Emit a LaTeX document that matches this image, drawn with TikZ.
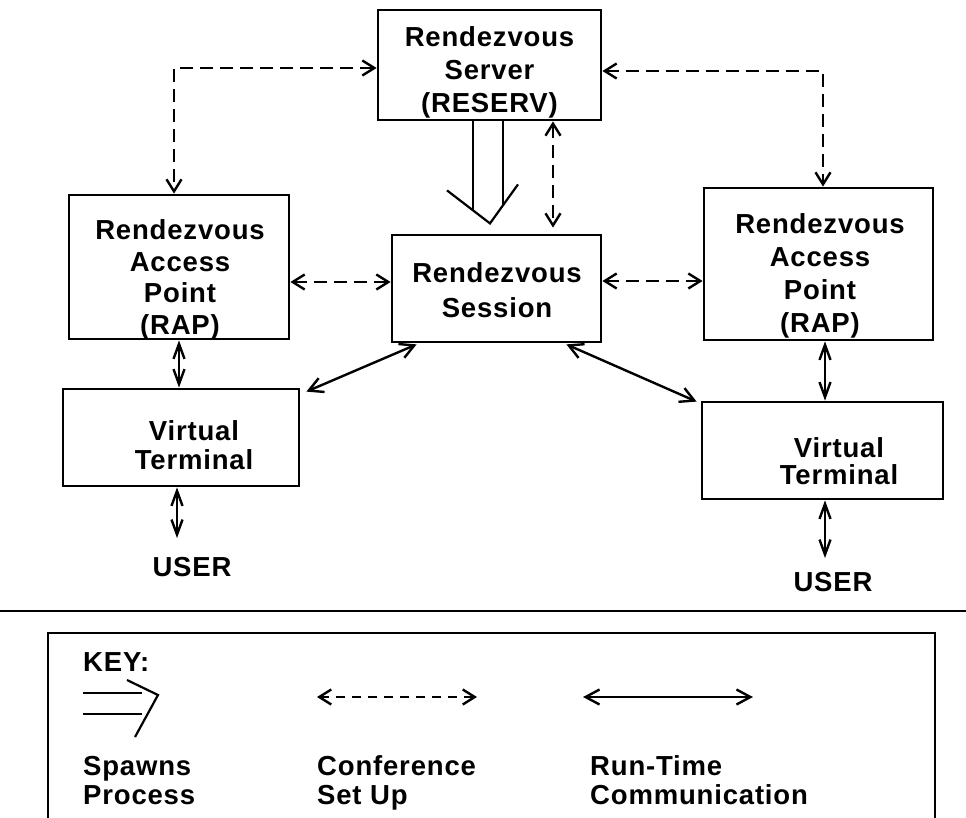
\documentclass[tikz,border=0pt]{standalone}
\usepackage{fontspec}
\setmainfont[LetterSpace=3]{Liberation Sans}
\usetikzlibrary{arrows.meta,calc}
\begin{document}
\begin{tikzpicture}[x=1pt,y=-1pt,
  box/.style={draw, rectangle, line width=2.8pt, inner sep=0pt},
  lbl/.style={inner sep=0pt, align=center, font=\bfseries\fontsize{27.5}{#1}\selectfont},
  lbl/.default=32,
  keytxt/.style={inner sep=0pt, align=left, anchor=west, font=\bfseries\fontsize{27.5}{29}\selectfont},
  dsh/.style={line width=2.4pt, dash pattern=on 13pt off 7pt, {Straight Barb[length=12pt,width=15pt]}-{Straight Barb[length=12pt,width=15pt]}},
  rt/.style={line width=2.4pt, {Straight Barb[length=14pt,width=15pt]}-{Straight Barb[length=14pt,width=15pt]}},
  va/.style={line width=2.4pt, {Straight Barb[length=15pt,width=11pt]}-{Straight Barb[length=15pt,width=11pt]}},
  spw/.style={line width=2.2pt, line join=miter}
]
\useasboundingbox (0,0) rectangle (966,818);

% boxes
\node[box, minimum width=223pt, minimum height=110pt] (srv) at (489.5,65) {};
\node[box, minimum width=220pt, minimum height=144pt] (lrap) at (179,267) {};
\node[box, minimum width=209pt, minimum height=107pt] (ses) at (496.5,288.5) {};
\node[box, minimum width=229pt, minimum height=152pt] (rrap) at (818.5,264) {};
\node[box, minimum width=236pt, minimum height=97pt] (lvt) at (181,437.5) {};
\node[box, minimum width=241pt, minimum height=97pt] (rvt) at (822.5,450.5) {};

% labels
\node[lbl=33] (srvt) at (489.5,72) {Rendezvous\\Server\\(RESERV)};
\node[lbl=31.5] (lrapt) at (180,280) {Rendezvous\\Access\\Point\\(RAP)};
\node[lbl=35] (sest) at (497,290.5) {Rendezvous\\Session};
\node[lbl=33] (rrapt) at (820,276) {Rendezvous\\Access\\Point\\(RAP)};
\node[lbl=29] (lvtt) at (194,445.5) {Virtual\\Terminal};
\node[lbl=27] (rvtt) at (839,461.5) {Virtual\\Terminal};
\node[lbl] (luser) at (192,567) {USER};
\node[lbl] (ruser) at (833,582) {USER};

% conference set-up (dashed)
\coordinate (sw) at ($(srv.west)+(0,3)$);
\coordinate (ln) at ($(lrap.north)+(-5,0)$);
\draw[dsh] (sw) -| (ln);
\coordinate (se) at ($(srv.east)+(0,6)$);
\coordinate (rn) at ($(rrap.north)+(4.5,0)$);
\draw[dsh] (se) -| (rn);
\coordinate (sd) at ($(srv.south)+(63.5,0)$);
\draw[dsh, shorten >=6pt] (sd) -- (sd |- ses.north);
\coordinate (le) at ($(lrap.east)+(0,15)$);
\draw[dsh] (le) -- (le -| ses.west);
\coordinate (sre) at ($(ses.east)+(0,-7.5)$);
\draw[dsh] (sre) -- (sre -| rrap.west);

% spawns process
\draw[spw] ($(srv.south)+(-16.5,0)$) -- ++(0,89);
\draw[spw] ($(srv.south)+(13.5,0)$) -- ++(0,84);
\draw[spw] ($(srv.south)+(-42.5,69)$) -- ($(srv.south)+(0.5,102)$) -- ($(srv.south)+(28.5,63)$);

% run-time communication
\draw[rt] ($(ses.south west)+(26,1)$) -- ($(lvt.north east)+(6,4)$);
\draw[rt] ($(ses.south east)+(-36,1)$) -- ($(rvt.north west)+(-4,1)$);
\draw[va] (lrap.south) -- (lrap.south |- lvt.north);
\coordinate (lvs) at ($(lvt.south)+(-4,0)$);
\draw[va, shorten >=19pt] (lvs) -- (lvs |- luser.north);
\coordinate (rrs) at ($(rrap.south)+(6.5,0)$);
\draw[va] (rrs) -- (rrs |- rvt.north);
\coordinate (rvs) at ($(rvt.south)+(2.5,0)$);
\draw[va, shorten >=14pt] (rvs) -- (rvs |- ruser.north);

% separator
\draw[line width=2.4pt] (0,611) -- (966,611);

% key
\draw[line width=2.4pt] (48,818) -- (48,633) -- (935,633) -- (935,818);
\node[keytxt] (key) at (83,662) {KEY:};
\draw[spw] (83,693) -- (142,693);
\draw[spw] (83,714) -- (142,714);
\draw[spw] (127,680) -- (158,695) -- (135,737);
\draw[dsh, dash pattern=on 9pt off 7pt] (317,697) -- (477,697);
\draw[rt] (583,697) -- (753,697);
\node[keytxt] (k1) at (83,780.5) {Spawns\\Process};
\node[keytxt] (k2) at (317,783) {Conference\\Set Up};
\node[keytxt] (k3) at (590,780.5) {Run-Time\\Communication};
\end{tikzpicture}
\end{document}
